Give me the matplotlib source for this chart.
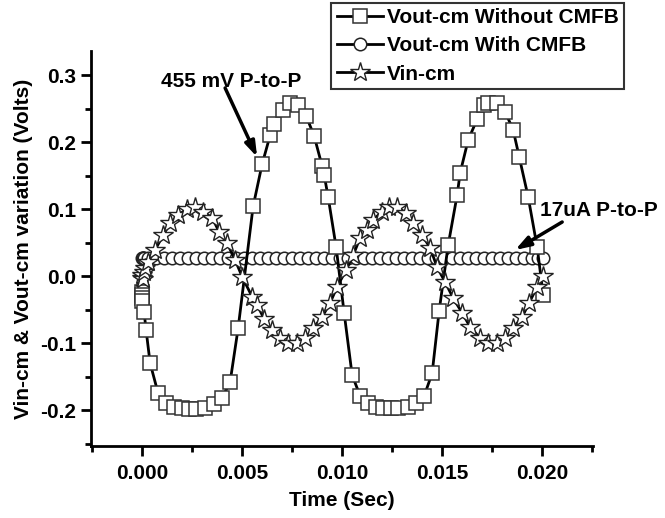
"""
Common-mode transient: Vout-cm with/without CMFB and Vin-cm.
Saves out.png
"""

import matplotlib
matplotlib.use("Agg")
import matplotlib.pyplot as plt
from matplotlib.ticker import MultipleLocator

plt.rcParams["font.family"] = ["Liberation Sans", "DejaVu Sans"]
plt.rcParams["font.weight"] = "bold"

# Vout-cm without CMFB (squares)
t_sq = [0.0, 0.0, 0.0, 0.0, 0.0001, 0.0002, 0.0004, 0.0008, 0.0012, 0.0016,
        0.002, 0.00235, 0.0027, 0.00315, 0.0036, 0.004, 0.0044, 0.0048, 0.00555,
        0.006, 0.0064, 0.0066, 0.00705, 0.0074, 0.0078, 0.0082, 0.0086, 0.009,
        0.0091, 0.0093, 0.0097, 0.0101, 0.0105, 0.0109, 0.0113, 0.0117, 0.01205,
        0.01245, 0.0128, 0.0133, 0.0137, 0.0141, 0.0145, 0.01485, 0.0153, 0.01575,
        0.0159, 0.0163, 0.01675, 0.0171, 0.0173, 0.01775, 0.01815, 0.01855,
        0.01885, 0.0193, 0.01975, 0.02005]
v_sq = [-0.024, -0.028, -0.033, -0.038, -0.054, -0.081, -0.130, -0.175, -0.190,
        -0.195, -0.197, -0.198, -0.198, -0.197, -0.191, -0.182, -0.158, -0.078,
        0.104, 0.167, 0.210, 0.227, 0.248, 0.258, 0.255, 0.239, 0.209, 0.164,
        0.151, 0.118, 0.043, -0.055, -0.148, -0.179, -0.190, -0.195, -0.197,
        -0.197, -0.197, -0.195, -0.190, -0.179, -0.145, -0.052, 0.046, 0.121,
        0.154, 0.203, 0.234, 0.255, 0.258, 0.258, 0.245, 0.218, 0.178, 0.118,
        0.043, -0.028]

# Vout-cm with CMFB (circles)
t_circ = [0.0, 0.00003, 0.00006, 0.0001, 0.0003, 0.0007, 0.0011, 0.0015, 0.0019,
          0.0023, 0.0027, 0.0031, 0.0035, 0.0039, 0.0043, 0.0047, 0.0051, 0.0055,
          0.0059, 0.0063, 0.0067, 0.0071, 0.0075, 0.0079, 0.0083, 0.0087, 0.0091,
          0.0095, 0.0099, 0.0103, 0.0107, 0.0111, 0.0115, 0.0119, 0.0123, 0.0127,
          0.0131, 0.0135, 0.0139, 0.0143, 0.0147, 0.0151, 0.0155, 0.0159, 0.0163,
          0.0167, 0.0171, 0.0175, 0.0179, 0.0183, 0.0187, 0.0191, 0.0195, 0.0198,
          0.02005]
v_circ = [0.027] * len(t_circ)

# Vin-cm (stars)
t_st = [0.0, 0.0, 0.00005, 0.0001, 0.00015, 0.0003, 0.00065, 0.00105, 0.0014,
        0.0018, 0.00225, 0.00265, 0.00305, 0.0035, 0.00385, 0.00425, 0.00465,
        0.005, 0.0055, 0.00575, 0.0061, 0.0065, 0.0069, 0.0073, 0.00775, 0.00815,
        0.00855, 0.009, 0.0094, 0.00975, 0.0102, 0.01055, 0.0109, 0.01125,
        0.01155, 0.012, 0.01235, 0.01275, 0.0132, 0.01355, 0.014, 0.0144,
        0.01475, 0.01515, 0.01555, 0.016, 0.0164, 0.0169, 0.0173, 0.01775,
        0.01815, 0.01855, 0.019, 0.01935, 0.01975, 0.02005]
v_st = [-0.003, 0.002, -0.005, 0.006, 0.012, 0.021, 0.039, 0.061, 0.079, 0.091,
        0.100, 0.103, 0.096, 0.087, 0.066, 0.049, 0.024, -0.001, -0.031, -0.043,
        -0.064, -0.081, -0.093, -0.100, -0.100, -0.093, -0.078, -0.061, -0.040,
        -0.016, 0.009, 0.031, 0.057, 0.069, 0.084, 0.096, 0.103, 0.103, 0.094,
        0.079, 0.061, 0.042, 0.013, -0.009, -0.033, -0.055, -0.076, -0.093,
        -0.100, -0.100, -0.093, -0.078, -0.061, -0.040, -0.016, 0.0]

FS = 15

fig = plt.figure(figsize=(6.65, 5.18), dpi=100)
ax = fig.add_axes([0.137, 0.139, 0.755, 0.7625])

ax.plot(t_circ, v_circ, "-", color="black", lw=2, marker="o", ms=9,
        mfc="white", mec="#222222", mew=1.1, label="Vout-cm With CMFB", zorder=2)
ax.plot(t_sq, v_sq, "-", color="black", lw=2, marker="s", ms=9.5,
        mfc="white", mec="#333333", mew=1.1, label="Vout-cm Without CMFB", zorder=3)
ax.plot(t_st, v_st, "-", color="black", lw=2, marker="*", ms=15,
        mfc="white", mec="#222222", mew=1.0, label="Vin-cm", zorder=4)

ax.set_xlim(-0.00255, 0.02255)
ax.set_ylim(-0.2537, 0.3358)
ax.xaxis.set_major_locator(MultipleLocator(0.005))
ax.xaxis.set_minor_locator(MultipleLocator(0.0025))
ax.yaxis.set_major_locator(MultipleLocator(0.1))
ax.yaxis.set_minor_locator(MultipleLocator(0.05))
ax.xaxis.set_major_formatter(matplotlib.ticker.FormatStrFormatter("%.3f"))
ax.yaxis.set_major_formatter(matplotlib.ticker.FormatStrFormatter("%.1f"))

for side in ("top", "right"):
    ax.spines[side].set_visible(False)
for side in ("left", "bottom"):
    ax.spines[side].set_linewidth(2)
ax.tick_params(which="major", direction="out", length=7, width=2, labelsize=FS)
ax.tick_params(axis="x", which="major", pad=6)
ax.tick_params(which="minor", direction="out", length=4, width=2)

ax.set_xlabel("Time (Sec)", fontsize=FS, fontweight="bold", labelpad=6)
ax.set_ylabel("Vin-cm & Vout-cm variation (Volts)", fontsize=FS,
              fontweight="bold", labelpad=5)

# annotations: text and arrow placed separately
arrow = dict(arrowstyle="-|>,head_length=0.9,head_width=0.3",
             color="black", lw=2.5, shrinkA=0, shrinkB=0)
ax.text(0.00445, 0.291, "455 mV P-to-P", ha="center", va="center",
        fontsize=FS, fontweight="bold", clip_on=False)
ax.annotate("", xy=(0.00575, 0.1776), xytext=(0.00415, 0.2806),
            arrowprops=arrow, annotation_clip=False)
ax.text(0.0199, 0.0985, "17uA P-to-P", ha="left", va="center",
        fontsize=FS, fontweight="bold", clip_on=False)
ax.annotate("", xy=(0.01865, 0.0388), xytext=(0.021, 0.0806),
            arrowprops=arrow, annotation_clip=False)

handles, labels = ax.get_legend_handles_labels()
order = [1, 0, 2]
leg = fig.legend([handles[i] for i in order], [labels[i] for i in order],
                 loc="upper right", bbox_to_anchor=(0.938, 0.995),
                 fontsize=FS, frameon=True, fancybox=False, handlelength=2.2,
                 handletextpad=0.2, labelspacing=0.45, borderpad=0.25,
                 borderaxespad=0.0)
leg.get_frame().set_edgecolor("black")
leg.get_frame().set_linewidth(1.5)
for txt in leg.get_texts():
    txt.set_fontweight("bold")

fig.savefig("out.png", dpi=100)
